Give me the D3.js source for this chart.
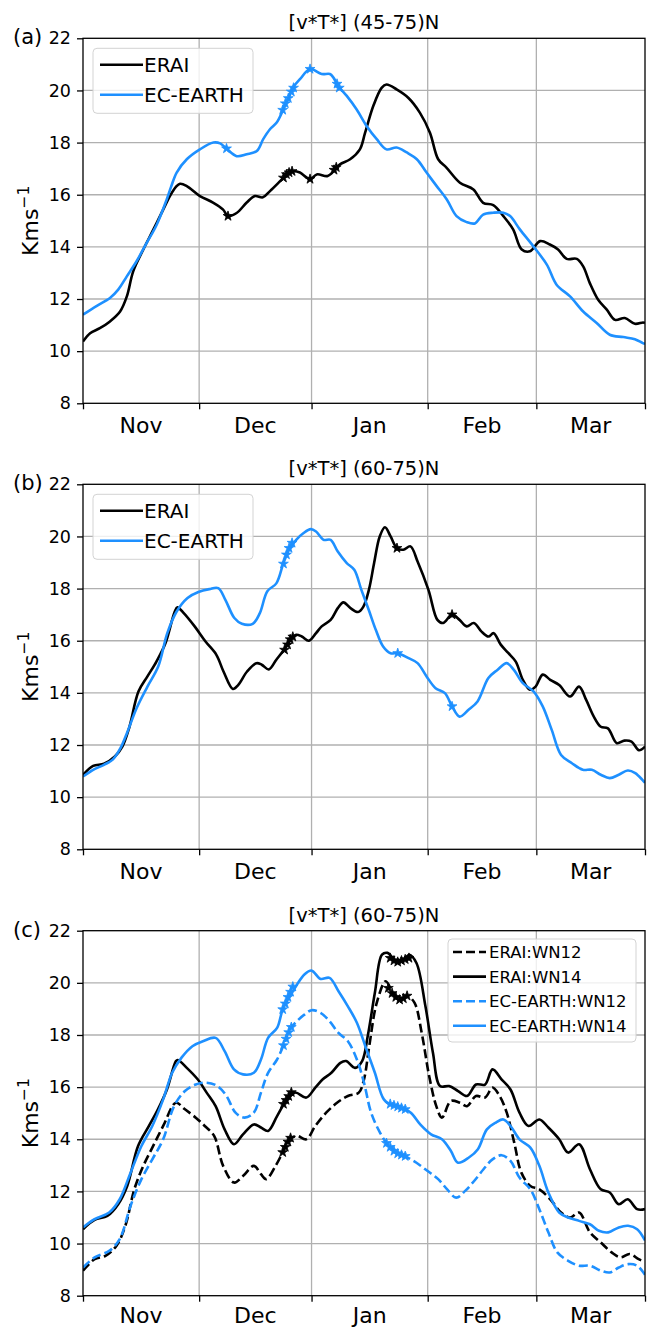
<!DOCTYPE html>
<html><head><meta charset="utf-8">
<script src="https://cdn.jsdelivr.net/npm/d3@7"></script>
<style>body{margin:0;background:#fff}svg{display:block}text{font-family:"DejaVu Sans",sans-serif;fill:#000}</style>
</head><body><svg id="chart" width="647" height="1328"></svg>
<script>
// ---------- data ----------
const monthLabels = ["Nov", "Dec", "Jan", "Feb", "Mar"];
const monthTicks = [0, 31, 61, 92, 121, 150];
const yTicks = [8, 10, 12, 14, 16, 18, 20, 22];
const panelTitles = ["[v*T*] (45-75)N", "[v*T*] (60-75)N", "[v*T*] (60-75)N"];
const panelLetters = ["(a)", "(b)", "(c)"];

// panel (a) [day, value]
const aErai = [[0,10.37],[1.9,10.69],[4.5,10.88],[7.2,11.14],[9.9,11.52],[11.7,12.1],[13.4,13.06],[16.1,13.9],[18.8,14.67],[21.4,15.43],[23.2,15.95],[24.8,16.3],[25.9,16.42],[27.7,16.33],[31.2,15.95],[34.7,15.7],[37.4,15.43],[38.7,15.18],[41,15.3],[43.7,15.7],[45.9,15.95],[48,15.9],[49.9,16.14],[52.6,16.52],[54.4,16.78],[56.1,16.9],[57.9,16.85],[60.6,16.6],[62.4,16.78],[65.3,16.72],[67.3,16.97],[68.6,17.17],[71.3,17.36],[73.9,17.74],[75.3,18.38],[77.5,19.41],[79.7,20.1],[81,20.23],[83.7,20.04],[86.8,19.72],[89.9,19.15],[92.6,18.38],[94.8,17.36],[97,17.04],[100.6,16.46],[104.2,16.2],[106.8,15.69],[109.5,15.6],[112.2,15.18],[114.8,14.67],[117.1,13.9],[119.3,13.83],[122,14.22],[124.6,14.09],[126.8,13.9],[129.1,13.54],[131.8,13.54],[133.5,13.25],[135.3,12.6],[137.5,11.97],[139.8,11.59],[142,11.2],[144.6,11.27],[147.3,11.05],[149.5,11.1],[150,11.08]];
const aEcEarth = [[0,11.4],[3.7,11.74],[7.2,12.04],[9.4,12.36],[11.7,12.87],[14.3,13.45],[17,14.15],[19.7,14.86],[22.3,15.8],[23.5,16.3],[25,16.85],[27.7,17.36],[31.2,17.74],[34.8,18.0],[36.6,17.97],[38.3,17.77],[41,17.48],[43.7,17.55],[46.4,17.68],[48.1,18.13],[49.9,18.51],[51.7,18.77],[53.5,19.28],[54.8,19.67],[56.1,20.12],[57.9,20.43],[60.6,20.82],[63.7,20.63],[65.9,20.63],[66.8,20.5],[68.1,20.18],[70.4,19.79],[73,19.28],[75.7,18.64],[78.4,18.13],[81,17.74],[83.7,17.81],[86.4,17.62],[89.1,17.36],[91.7,16.85],[94.4,16.33],[97.1,15.82],[99.7,15.18],[102.4,14.95],[104.6,14.9],[106.8,15.24],[109.5,15.31],[112.2,15.31],[114,15.18],[116.6,14.67],[120.2,14.02],[123.8,13.32],[126.4,12.55],[130,12.1],[133.5,11.52],[137.1,11.08],[140.6,10.63],[144.2,10.54],[147.3,10.46],[149.4,10.31],[150,10.28]];
const aEraiStars = [[38.7,15.18],[53.5,16.65],[54.3,16.78],[55,16.85],[55.8,16.9],[60.6,16.6],[67,16.95],[67.6,17.05]];
const aEcEarthStars = [[38.3,17.77],[53.3,19.25],[54,19.5],[54.8,19.7],[55.6,19.95],[56.2,20.1],[60.6,20.82],[67.8,20.25],[68.4,20.1]];

// panel (b)
const bErai = [[0,10.85],[2.7,11.2],[5.6,11.28],[8.5,11.56],[10.5,11.94],[12.4,12.7],[14.8,14.05],[17.2,14.63],[19.6,15.2],[22,15.9],[24.5,17.12],[25.2,17.28],[26.9,17.06],[29.8,16.55],[32.7,15.97],[35.6,15.46],[37.5,14.82],[40,14.15],[41.4,14.3],[43.8,14.82],[46.3,15.14],[47.7,15.08],[49.6,14.9],[51.6,15.27],[54,15.72],[55.5,16.06],[56.9,16.23],[58.4,16.16],[60.3,16.0],[62.2,16.29],[63.7,16.55],[66.1,16.8],[68,17.25],[69.5,17.47],[71.4,17.25],[73.4,17.1],[74.8,17.3],[76.3,17.95],[77.7,18.98],[79.2,20.0],[80.6,20.35],[82.1,20.0],[83.8,19.55],[85.5,19.49],[87.4,19.62],[89.3,19.04],[92.2,17.95],[94.6,16.8],[96.1,16.68],[98.5,17.0],[100.5,16.8],[102.4,16.55],[104.3,16.68],[106.3,16.36],[108.2,16.16],[109.6,16.29],[111.5,15.85],[113.5,15.53],[115.5,15.2],[117.4,14.5],[119.3,14.12],[120.8,14.24],[122.7,14.7],[124.7,14.5],[127.1,14.3],[130,13.86],[132.4,14.24],[134.3,13.73],[136.3,13.1],[138.2,12.7],[140.1,12.64],[142.5,12.07],[144.5,12.17],[146.4,12.13],[148.4,11.8],[150,11.94]];
const bEcEarth = [[0,10.79],[2.7,11.05],[5.6,11.24],[8,11.45],[10,11.88],[11.9,12.52],[14.3,13.41],[17.2,14.24],[20.1,15.02],[22.5,16.29],[25,17.12],[27.9,17.64],[30.8,17.87],[33.7,17.98],[36.1,18.02],[38,17.57],[40.4,16.87],[42.4,16.65],[45.3,16.65],[47.2,17.06],[49.2,17.9],[51.6,18.2],[53.5,18.98],[55,19.49],[56.9,19.87],[58.8,20.12],[60.8,20.28],[62.2,20.19],[64.2,19.87],[66.1,19.87],[68,19.42],[70.4,18.98],[72.4,18.72],[74.3,17.95],[76.3,17.17],[78.2,16.4],[80.1,15.78],[82.1,15.52],[84,15.52],[86.9,15.33],[89.3,15.14],[91.7,14.63],[94.1,14.18],[96.6,13.99],[98.5,13.48],[100.5,13.09],[102.9,13.35],[105.3,13.67],[108.2,14.57],[110.6,14.88],[113.1,15.14],[115,14.88],[117.4,14.37],[120.3,14.05],[122.7,13.48],[125.1,12.58],[127.6,11.62],[130.5,11.3],[133.4,11.05],[135.8,11.05],[138.2,10.86],[140.6,10.73],[143,10.86],[145.4,11.02],[147.4,10.92],[150,10.55]];
const bEraiStars = [[53.8,15.65],[54.6,15.85],[55.3,16.05],[56,16.15],[83.8,19.55],[98.5,17.0]];
const bEcEarthStars = [[53.5,18.95],[54.3,19.3],[55,19.55],[55.8,19.75],[84,15.52],[98.5,13.48]];

// panel (c)
const cEraiWn12 = [[0,8.96],[3.1,9.4],[6,9.53],[8.9,9.91],[11.3,10.68],[13.7,12.08],[16.1,12.98],[18.5,13.68],[21.4,14.51],[24.8,15.4],[27.2,15.15],[30.1,14.83],[32.5,14.51],[35,14.13],[37.4,12.98],[40.3,12.34],[42.7,12.59],[45.6,12.98],[47.5,12.66],[48.9,12.47],[51.4,12.98],[53.3,13.49],[55.2,14.0],[57.1,14.13],[59.6,14.0],[62,14.51],[64.9,15.02],[67.8,15.4],[70.7,15.66],[73.6,15.79],[75,16.3],[76.4,17.57],[78.4,19.23],[80.8,20.06],[82.7,19.62],[84.7,19.36],[86.6,19.49],[88.5,19.23],[90.4,18.08],[92.4,16.42],[94.3,15.27],[95.8,14.83],[98.2,15.47],[100.6,15.4],[102.5,15.27],[104.9,15.66],[107.3,15.6],[109.3,15.98],[111.2,15.66],[113.1,15.02],[115.1,13.87],[117,12.72],[119.4,12.21],[121.8,12.08],[124.7,11.7],[127.6,11.19],[130,11.0],[132.4,11.19],[135.3,10.43],[138.2,10.04],[141.1,9.66],[143.5,9.47],[145.9,9.6],[148.3,9.4],[150,9.3]];
const cEraiWn14 = [[0,10.55],[3.1,10.91],[6.5,11.06],[9.4,11.51],[11.8,12.21],[14.7,13.74],[17.6,14.51],[20,15.15],[22.4,15.91],[24.8,17.0],[25.3,17.04],[27.7,16.74],[30.6,16.3],[33,15.79],[35.4,15.27],[37.8,14.38],[40.3,13.81],[42.7,14.19],[45.6,14.57],[47.5,14.45],[49.4,14.32],[51.8,14.89],[54.2,15.47],[56.6,15.79],[59.6,15.6],[62,15.98],[64,16.3],[66.3,16.55],[68.7,16.93],[70.2,17.0],[72.6,16.74],[74.5,17.0],[76,17.96],[77.9,19.62],[79.8,21.08],[81.3,21.15],[83.2,20.89],[85.1,20.83],[87.1,21.08],[89,20.76],[91.4,19.1],[93.4,17.32],[95.3,16.04],[97.7,16.04],[100.1,15.85],[102.5,15.66],[104.9,16.1],[107.3,16.1],[109.3,16.68],[111.7,16.3],[114.1,15.91],[116.5,15.02],[118.9,14.51],[121.8,14.76],[124.2,14.45],[127.1,14.0],[129.5,13.49],[132.4,13.81],[135.3,12.85],[138.2,12.08],[140.6,11.96],[143,11.51],[145.4,11.7],[147.9,11.32],[150,11.32]];
const cEcEarthWn12 = [[0,9.08],[3.1,9.47],[7,9.72],[9.8,10.17],[12.7,11.45],[15.6,12.47],[18.5,13.23],[21.4,14.0],[24.3,15.27],[27.2,15.85],[30.1,16.1],[33,16.17],[35.9,16.04],[38.3,15.66],[40.7,15.02],[43.1,14.83],[45.6,15.02],[47.5,15.79],[49.4,16.55],[51.8,17.06],[53.8,17.7],[55.2,18.21],[57.1,18.53],[59.1,18.78],[61,18.95],[63.4,18.85],[65.8,18.53],[68.2,18.08],[70.7,17.76],[73.1,17.06],[75,16.17],[76.9,15.02],[79.3,14.25],[81.3,13.81],[84.2,13.49],[86.6,13.3],[89,13.1],[91.9,12.79],[94.8,12.47],[97.2,12.08],[99.6,11.76],[102,12.02],[104.4,12.4],[106.9,12.85],[109.3,13.23],[111.7,13.39],[114.1,13.17],[116.5,12.53],[119.4,12.08],[121.8,11.32],[124.2,10.43],[126.6,9.66],[129.5,9.34],[132.4,9.15],[135.3,9.15],[138.2,8.96],[140.6,8.89],[143,9.08],[145.5,9.21],[147.9,9.15],[150,8.8]];
const cEcEarthWn14 = [[0,10.62],[3.1,10.94],[7,11.19],[9.8,11.7],[12.7,12.72],[15.6,13.74],[18.5,14.51],[21.4,15.53],[23.8,16.55],[26.3,17.13],[29.2,17.57],[32,17.76],[35.4,17.89],[37.8,17.38],[40.3,16.68],[42.7,16.49],[45.6,16.55],[47.5,17.06],[49.4,17.89],[51.8,18.27],[53.3,18.98],[55.2,19.49],[57.1,19.93],[59.1,20.32],[61,20.47],[63.4,20.15],[65.8,20.19],[68.2,19.68],[70.7,19.1],[73.1,18.47],[75.5,17.51],[77.9,16.55],[80.3,15.53],[82.7,15.28],[85.1,15.21],[87.5,15.02],[90,14.57],[92.9,14.19],[95.8,14.0],[98.2,13.55],[100.1,13.1],[103,13.3],[105.4,13.62],[107.8,14.38],[110.2,14.64],[112.2,14.76],[114.1,14.51],[116.5,14.0],[119.4,13.68],[121.8,12.98],[124.2,11.96],[127.1,11.19],[129.5,11.0],[132.4,10.87],[135.3,10.74],[137.7,10.49],[140.2,10.43],[143,10.62],[145.5,10.68],[147.9,10.55],[150,10.12]];
const cEraiWn12Stars = [[53.3,13.5],[54,13.7],[54.7,13.9],[55.4,14.05],[81.5,19.8],[82.5,19.6],[83.5,19.45],[84.5,19.35],[85.5,19.4],[86.5,19.5]];
const cEraiWn14Stars = [[53.5,15.35],[54.2,15.5],[54.9,15.65],[55.6,15.8],[82,20.95],[83,20.85],[84,20.8],[85,20.85],[86,20.9],[87,20.95]];
const cEcEarthWn12Stars = [[53.5,17.6],[54.2,17.85],[54.9,18.1],[55.6,18.3],[81,13.85],[82,13.7],[83,13.55],[84,13.45],[85,13.4],[86,13.35]];
const cEcEarthWn14Stars = [[53.3,18.98],[54,19.2],[54.7,19.45],[55.4,19.65],[56,19.85],[82,15.35],[83,15.3],[84,15.25],[85,15.2],[86,15.15]];

// ---------- layout / style ----------
const BLACK = "#000000", BLUE = "#1e90ff";
const plotLeft = 83, plotW = 562, plotH = 365;
const panelTops = [38.3, 484.3, 930.7];
const monthLabelOffsets = [30, 30, 27];

const panels = [
  { title: panelTitles[0], letter: panelLetters[0], legend: "topleft",
    series: [
      { name: "ERAI", data: aErai, stars: aEraiStars, color: BLACK, dash: null },
      { name: "EC-EARTH", data: aEcEarth, stars: aEcEarthStars, color: BLUE, dash: null } ] },
  { title: panelTitles[1], letter: panelLetters[1], legend: "topleft",
    series: [
      { name: "ERAI", data: bErai, stars: bEraiStars, color: BLACK, dash: null },
      { name: "EC-EARTH", data: bEcEarth, stars: bEcEarthStars, color: BLUE, dash: null } ] },
  { title: panelTitles[2], letter: panelLetters[2], legend: "topright",
    series: [
      { name: "ERAI:WN12", data: cEraiWn12, stars: cEraiWn12Stars, color: BLACK, dash: "9,4" },
      { name: "ERAI:WN14", data: cEraiWn14, stars: cEraiWn14Stars, color: BLACK, dash: null },
      { name: "EC-EARTH:WN12", data: cEcEarthWn12, stars: cEcEarthWn12Stars, color: BLUE, dash: "9,4" },
      { name: "EC-EARTH:WN14", data: cEcEarthWn14, stars: cEcEarthWn14Stars, color: BLUE, dash: null } ] }
];

const svg = d3.select("#chart");
const x = d3.scaleLinear().domain([0, 150]).range([0, plotW]);
const y = d3.scaleLinear().domain([8, 22]).range([plotH, 0]);
const line = d3.line().x(d => x(d[0])).y(d => y(d[1])).curve(d3.curveCatmullRom.alpha(0.5));
const star = d3.symbol().type(d3.symbolStar).size(30);

panels.forEach((p, i) => {
  const top = panelTops[i];
  const g = svg.append("g").attr("transform", `translate(${plotLeft},${top})`);
  const clipId = "clip" + i;
  g.append("clipPath").attr("id", clipId).append("rect").attr("width", plotW).attr("height", plotH);

  // grid
  g.append("g").selectAll("line").data(monthTicks.slice(1, -1)).join("line")
    .attr("x1", d => x(d)).attr("x2", d => x(d)).attr("y1", 0).attr("y2", plotH)
    .attr("stroke", "#b0b0b0").attr("stroke-width", 1.3);
  g.append("g").selectAll("line").data(yTicks.slice(1, -1)).join("line")
    .attr("y1", d => y(d)).attr("y2", d => y(d)).attr("x1", 0).attr("x2", plotW)
    .attr("stroke", "#b0b0b0").attr("stroke-width", 1.3);

  // lines
  const body = g.append("g").attr("clip-path", `url(#${clipId})`);
  p.series.forEach(s => {
    body.append("path").datum(s.data).attr("d", line)
      .attr("fill", "none").attr("stroke", s.color).attr("stroke-width", 2.6)
      .attr("stroke-linejoin", "round")
      .attr("stroke-dasharray", s.dash);
    body.append("g").selectAll("path").data(s.stars).join("path")
      .attr("d", star).attr("transform", d => `translate(${x(d[0])},${y(d[1])})`)
      .attr("fill", s.color).attr("stroke", s.color).attr("stroke-width", 0.8);
  });

  // frame
  g.append("rect").attr("width", plotW).attr("height", plotH)
    .attr("fill", "none").attr("stroke", "#000").attr("stroke-width", 1.3);

  // axes
  const ya = g.append("g").call(d3.axisLeft(y).tickValues(yTicks).tickSize(6).tickPadding(6).tickFormat(d3.format("d")));
  ya.select(".domain").remove();
  ya.selectAll("line").attr("stroke-width", 1.3);
  ya.selectAll("text").attr("font-size", 17.5).attr("font-family", "DejaVu Sans");

  const xa = g.append("g").attr("transform", `translate(0,${plotH})`)
    .call(d3.axisBottom(x).tickValues(monthTicks).tickSize(6).tickFormat(""));
  xa.select(".domain").remove();
  xa.selectAll("line").attr("stroke-width", 1.3);

  g.append("g").selectAll("text").data(monthLabels).join("text")
    .attr("x", (d, k) => x((monthTicks[k] + monthTicks[k + 1]) / 2))
    .attr("y", plotH + monthLabelOffsets[i]).attr("text-anchor", "middle").attr("font-size", 22)
    .text(d => d);

  // title
  g.append("text").attr("x", plotW / 2).attr("y", -9).attr("text-anchor", "middle")
    .attr("font-size", 19.5).text(p.title);
  // panel letter
  svg.append("text").attr("x", 13).attr("y", top + 6).attr("font-size", 21).text(p.letter);
  // y label
  const yl = svg.append("text").attr("transform", `translate(38,${top + plotH / 2}) rotate(-90)`)
    .attr("text-anchor", "middle").attr("font-size", 22);
  yl.append("tspan").text("Kms");
  yl.append("tspan").attr("dy", -9).attr("font-size", 15.5).text("\u22121");

  // legend
  if (p.legend === "topleft") {
    const lg = g.append("g").attr("transform", "translate(10,10)");
    lg.append("rect").attr("width", 160).attr("height", 65).attr("rx", 4)
      .attr("fill", "#fff").attr("fill-opacity", 0.8).attr("stroke", "#d3d3d3").attr("stroke-width", 1);
    p.series.forEach((s, k) => {
      const yy = 16.5 + k * 30;
      lg.append("line").attr("x1", 7).attr("x2", 50).attr("y1", yy).attr("y2", yy)
        .attr("stroke", s.color).attr("stroke-width", 2.6).attr("stroke-dasharray", s.dash);
      lg.append("text").attr("x", 51).attr("y", yy).attr("dy", "0.36em").attr("font-size", 20).text(s.name);
    });
  } else {
    const lg = g.append("g").attr("transform", "translate(365,8.3)");
    lg.append("rect").attr("width", 188).attr("height", 103).attr("rx", 4)
      .attr("fill", "#fff").attr("fill-opacity", 0.8).attr("stroke", "#d3d3d3").attr("stroke-width", 1);
    p.series.forEach((s, k) => {
      const yy = 13 + k * 24.6;
      lg.append("line").attr("x1", 5).attr("x2", 38).attr("y1", yy).attr("y2", yy)
        .attr("stroke", s.color).attr("stroke-width", 2.6).attr("stroke-dasharray", s.dash);
      lg.append("text").attr("x", 41).attr("y", yy).attr("dy", "0.36em").attr("font-size", 16.5).text(s.name);
    });
  }
});
</script>
</body></html>
